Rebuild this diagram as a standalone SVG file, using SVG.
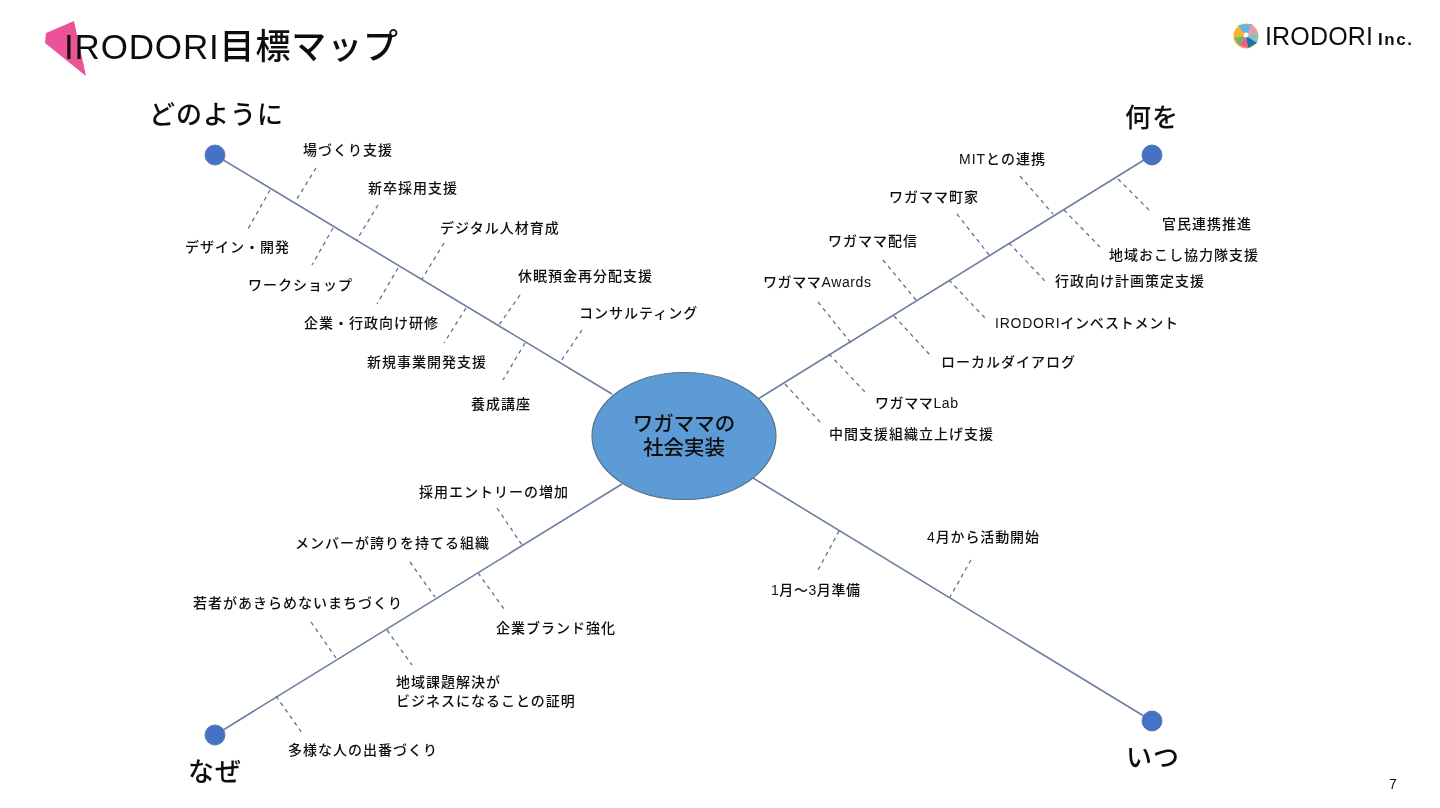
<svg xmlns="http://www.w3.org/2000/svg" width="1440" height="808" viewBox="0 0 1440 808">
<style>
text{font-family:"Liberation Sans","Noto Sans CJK JP",sans-serif;fill:#111}
.l{font-size:14px;letter-spacing:1px;font-weight:500}
.h{font-size:26px;letter-spacing:1px;font-weight:500}
.m{stroke:#6d7f9f;stroke-width:1.6;fill:none}
.d{stroke:#5f7193;stroke-width:1.3;stroke-dasharray:4 4;fill:none}
.e{fill:#4472c4;stroke:#5a7bb5;stroke-width:1}
</style>
<defs><filter id="b" x="-5%" y="-5%" width="110%" height="110%"><feGaussianBlur stdDeviation="0.5"/></filter></defs>
<rect width="1440" height="808" fill="#fff"/>
<g filter="url(#b)">
<g id="title">
<polygon points="46,33 74,21 86,76 45,43" fill="#ea5297"/>
<text x="64" y="59" font-size="35" font-weight="500" textLength="334" lengthAdjust="spacing">IRODORI目標マップ</text>
</g>
<g id="logo">
<circle cx="1246" cy="36" r="12.500" fill="#f5b335"/>
<path d="M1246 36L1238 25L1252 24Z" fill="#5cb8e6"/>
<path d="M1246 36L1252 24L1258 33Z" fill="#e89ab0"/>
<path d="M1246 36L1258 33L1257 43Z" fill="#7cc6c9"/>
<path d="M1246 36L1257 43L1248 48Z" fill="#1d6fa8"/>
<path d="M1246 36L1248 48L1239 45Z" fill="#e95a9b"/>
<path d="M1246 36L1239 45L1234 38Z" fill="#6cb86a"/>
<circle cx="1246" cy="35" r="2.500" fill="#fff"/>
<text x="1265" y="45" font-size="25" textLength="108" lengthAdjust="spacing" fill="#333">IRODORI</text>
<text x="1378" y="45" font-size="17" font-weight="700" textLength="34" lengthAdjust="spacing" fill="#333">Inc.</text>
</g>
<g id="connectors">
<path class="m" d="M215 155L612 394M1152 155L758 399M215 735L622 484M1152 721L753 478"/>
<path class="d" d="M316 168L295 202M270 190L248 229M378 205L356 241M333 228L312 265M444 243L422 279M398 268L377 304M520 295L499 325M466 308L444 343M582 330L561 361M525 343L503 380"/>
<path class="d" d="M1020 176L1053 214M1118 179L1152 213M957 214L990 256M1064 210L1100 247M883 260L916 300M1009 243L1045 281M818 302L851 343M949 280L985 318M894 316L930 355M829 354L865 392M785 384L820 422"/>
<path class="d" d="M497 508L522 545M410 562L435 597M478 573L504 609M311 622L336 658M387 630L412 665M276 696L302 733"/>
<path class="d" d="M839 531L817 572M971 560L950 597"/>
</g>
<g id="center">
<ellipse cx="684" cy="436" rx="92" ry="63.500" fill="#5b9bd5" stroke="#5d7288" stroke-width="1.200"/>
<text x="684" y="431" font-size="20.500" font-weight="500" text-anchor="middle">ワガママの</text>
<text x="684" y="455" font-size="20.500" font-weight="500" text-anchor="middle">社会実装</text>
</g>
<g id="how"><circle class="e" cx="215" cy="155" r="10"/><text class="h" x="149" y="124">どのように</text></g>
<g id="what"><circle class="e" cx="1152" cy="155" r="10"/><text class="h" x="1125" y="127">何を</text></g>
<g id="why"><circle class="e" cx="215" cy="735" r="10"/><text class="h" x="188" y="781">なぜ</text></g>
<g id="when"><circle class="e" cx="1152" cy="721" r="10"/><text class="h" x="1126" y="767">いつ</text></g>
<g id="labels">
<text class="l" x="303" y="155">場づくり支援</text>
<text class="l" x="185" y="252">デザイン・開発</text>
<text class="l" x="368" y="193">新卒採用支援</text>
<text class="l" x="248" y="290">ワークショップ</text>
<text class="l" x="440" y="233">デジタル人材育成</text>
<text class="l" x="304" y="328">企業・行政向け研修</text>
<text class="l" x="518" y="281">休眠預金再分配支援</text>
<text class="l" x="367" y="367">新規事業開発支援</text>
<text class="l" x="579" y="318">コンサルティング</text>
<text class="l" x="471" y="409">養成講座</text>
<text class="l" x="959" y="164">MITとの連携</text>
<text class="l" x="1162" y="229">官民連携推進</text>
<text class="l" x="889" y="202">ワガママ町家</text>
<text class="l" x="1109" y="260">地域おこし協力隊支援</text>
<text class="l" x="828" y="246">ワガママ配信</text>
<text class="l" x="1055" y="286">行政向け計画策定支援</text>
<text class="l" x="763" y="287" textLength="109" lengthAdjust="spacing">ワガママAwards</text>
<text class="l" x="995" y="328" textLength="184" lengthAdjust="spacing">IRODORIインベストメント</text>
<text class="l" x="941" y="367">ローカルダイアログ</text>
<text class="l" x="875" y="408" textLength="84" lengthAdjust="spacing">ワガママLab</text>
<text class="l" x="829" y="439">中間支援組織立上げ支援</text>
<text class="l" x="419" y="497">採用エントリーの増加</text>
<text class="l" x="295" y="548">メンバーが誇りを持てる組織</text>
<text class="l" x="496" y="633">企業ブランド強化</text>
<text class="l" x="193" y="608">若者があきらめないまちづくり</text>
<text class="l" x="396" y="687">地域課題解決が</text>
<text class="l" x="396" y="706">ビジネスになることの証明</text>
<text class="l" x="288" y="755">多様な人の出番づくり</text>
<text class="l" x="771" y="595" textLength="90" lengthAdjust="spacing">1月～3月準備</text>
<text class="l" x="927" y="542" textLength="113" lengthAdjust="spacing">4月から活動開始</text>
<text x="1389" y="789" font-size="14" font-weight="500">7</text>
</g>
</g>
</svg>
